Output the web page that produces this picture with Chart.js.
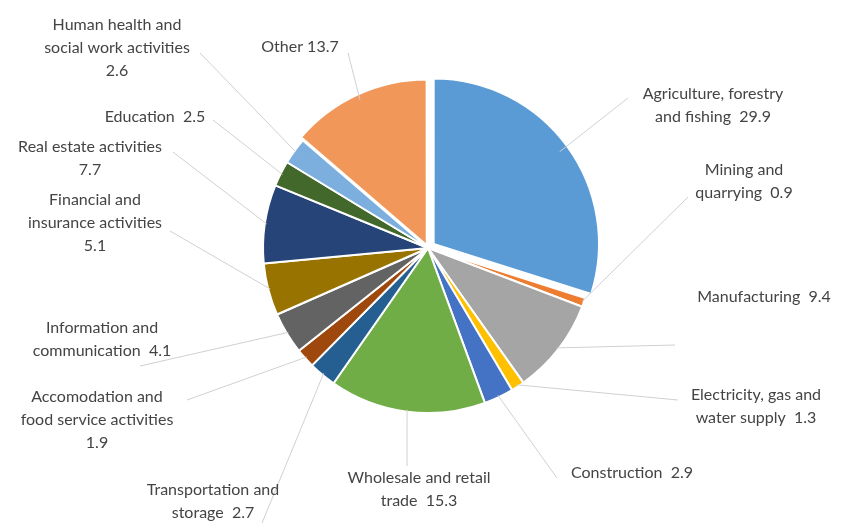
<!DOCTYPE html>
<html>
<head>
<meta charset="utf-8">
<title>Gross value added by sector</title>
<script src="https://cdn.jsdelivr.net/npm/chart.js@4.4.0/dist/chart.umd.min.js"></script>
<style>
  html, body { margin: 0; padding: 0; background: #fff; }
  #wrap { width: 843px; height: 526px; }
</style>
</head>
<body>
<div id="wrap"><canvas id="pie" width="843" height="526"></canvas></div>
<script>
// sectors, clockwise from 12 o'clock
const categories = [
  'Agriculture, forestry and fishing',
  'Mining and quarrying',
  'Manufacturing',
  'Electricity, gas and water supply',
  'Construction',
  'Wholesale and retail trade',
  'Transportation and storage',
  'Accomodation and food service activities',
  'Information and communication',
  'Financial and insurance activities',
  'Real estate activities',
  'Education',
  'Human health and social work activities',
  'Other'
];
const values = [29.9, 0.9, 9.4, 1.3, 2.9, 15.3, 2.7, 1.9, 4.1, 5.1, 7.7, 2.5, 2.6, 13.7];

const colors = [
  '#5B9BD5', '#ED7D31', '#A5A5A5', '#FFC000', '#4472C4', '#70AD47', '#255E91',
  '#9E480E', '#636363', '#997300', '#264478', '#43682B', '#7CAFDD', '#F1975A'
];

// how each label wraps; {v} is replaced by the value
const labelLines = [
  ['Agriculture, forestry', 'and fishing  {v}'],
  ['Mining and', 'quarrying  {v}'],
  ['Manufacturing  {v}'],
  ['Electricity, gas and', 'water supply  {v}'],
  ['Construction  {v}'],
  ['Wholesale and retail', 'trade  {v}'],
  ['Transportation and', 'storage  {v}'],
  ['Accomodation and', 'food service activities', '{v}'],
  ['Information and', 'communication  {v}'],
  ['Financial and', 'insurance activities', '{v}'],
  ['Real estate activities', '{v}'],
  ['Education  {v}'],
  ['Human health and', 'social work activities', '{v}'],
  ['Other {v}']
];

// label block: centre x, middle of first line
const labelAt = [
  [713, 94], [744, 170], [764, 297], [756, 395], [632, 473], [419, 478], [213, 490],
  [97, 397], [102, 328], [95, 200], [90, 147], [155, 117], [117, 25], [300, 47]
];
// outer end of each leader line
const leaderTo = [
  [628, 98], [688, 197], [675, 345], [678, 400], [557, 478], [407, 466], [262, 523],
  [187, 400], [140, 366], [170, 231], [173, 152], [213, 120], [200, 53], [348, 53]
];

const LINE_H = 23;
const FONT = '16px Lato, "Open Sans", sans-serif';

const leaderLabels = {
  id: 'leaderLabels',
  afterDatasetsDraw(chart) {
    const ctx = chart.ctx;
    const arcs = chart.getDatasetMeta(0).data;
    ctx.save();
    ctx.strokeStyle = '#d0d0d0';
    ctx.lineWidth = 1;
    arcs.forEach((arc, i) => {
      const p = arc.getProps(['x', 'y', 'startAngle', 'endAngle', 'outerRadius'], true);
      const mid = (p.startAngle + p.endAngle) / 2;
      const sx = p.x + Math.cos(mid) * (p.outerRadius - 2);
      const sy = p.y + Math.sin(mid) * (p.outerRadius - 2);
      ctx.beginPath();
      ctx.moveTo(sx, sy);
      ctx.lineTo(leaderTo[i][0], leaderTo[i][1]);
      ctx.stroke();
    });
    ctx.font = FONT;
    ctx.fillStyle = '#444444';
    ctx.textAlign = 'center';
    ctx.textBaseline = 'middle';
    labelLines.forEach((lines, i) => {
      lines.forEach((t, k) => {
        const txt = t.replace('{v}', values[i].toFixed(1));
        ctx.fillText(txt, labelAt[i][0], labelAt[i][1] + k * LINE_H);
      });
    });
    ctx.restore();
  }
};

// agriculture and "other" are pulled apart at the top (arc offset is drawn at 1/4)
const explode = values.map((v, i) => i === 0 ? 28 : (i === values.length - 1 ? 12 : 0));

new Chart(document.getElementById('pie'), {
  type: 'pie',
  data: {
    labels: categories,
    datasets: [{
      data: values,
      backgroundColor: colors,
      borderColor: '#ffffff',
      borderWidth: 2,
      offset: explode,
      hoverOffset: 0
    }]
  },
  options: {
    responsive: false,
    devicePixelRatio: 1,
    animation: false,
    radius: 165,
    layout: { padding: { left: 100, right: 87, top: 46, bottom: 76 } },
    plugins: {
      legend: { display: false },
      tooltip: { enabled: false }
    }
  },
  plugins: [leaderLabels]
});
</script>
</body>
</html>
